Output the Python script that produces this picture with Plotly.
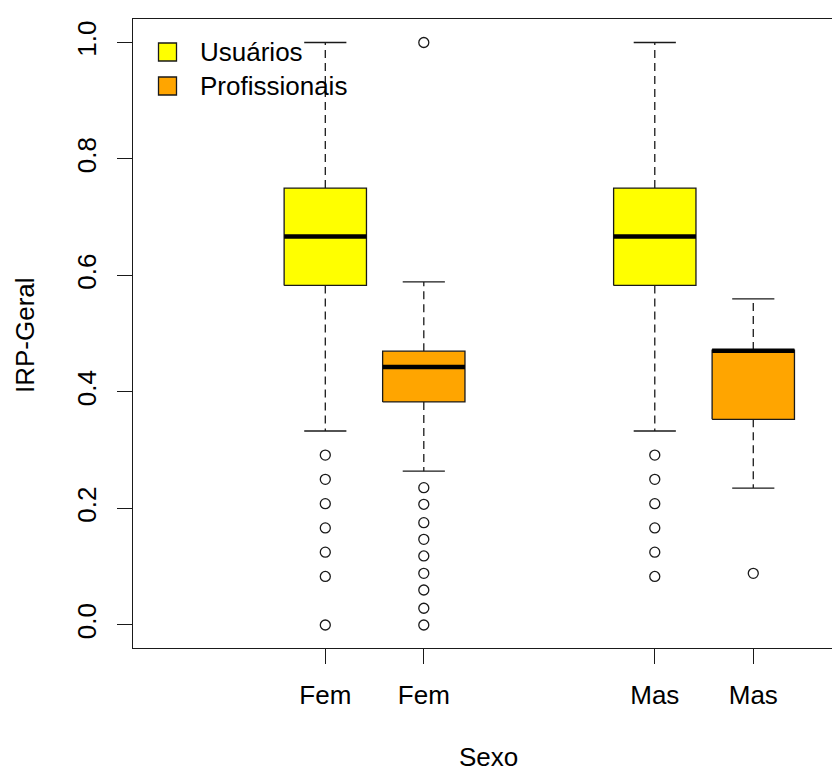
import plotly.graph_objects as go

# ---- data ----
groups = ["Fem", "Fem", "Mas", "Mas"]
series = ["Usuários", "Profissionais", "Usuários", "Profissionais"]
positions = [1, 2, 4.345, 5.345]
lower_whisker = [0.333, 0.264, 0.333, 0.235]
q1 = [0.583, 0.383, 0.583, 0.353]
median = [0.667, 0.443, 0.667, 0.471]
q3 = [0.750, 0.470, 0.750, 0.472]
upper_whisker = [1.0, 0.589, 1.0, 0.560]
outliers = [
    [0.2917, 0.25, 0.2083, 0.1667, 0.125, 0.0833, 0.0],
    [1.0, 0.2357, 0.2072, 0.1756, 0.147, 0.1185, 0.0887, 0.0601, 0.0287, 0.0],
    [0.2917, 0.25, 0.2083, 0.1667, 0.125, 0.0833],
    [0.0887],
]
series_colors = {"Usuários": "#FFFF00", "Profissionais": "#FFA500"}
y_ticks = [0.0, 0.2, 0.4, 0.6, 0.8, 1.0]
y_ticktext = ["0.0", "0.2", "0.4", "0.6", "0.8", "1.0"]

FONT = "Liberation Sans, Arial, sans-serif"
FS = 26
INK = "#1a1a1a"
box_half = 0.418
staple_half = 0.214

fig = go.Figure()

for i, p in enumerate(positions):
    col = series_colors[series[i]]
    # whiskers (dashed)
    fig.add_trace(go.Scatter(
        x=[p, p, None, p, p],
        y=[q3[i], upper_whisker[i], None, q1[i], lower_whisker[i]],
        mode="lines", line=dict(color=INK, width=1.3, dash="8px,5px"),
        hoverinfo="skip", showlegend=False))
    # staples
    fig.add_trace(go.Scatter(
        x=[p - staple_half, p + staple_half, None, p - staple_half, p + staple_half],
        y=[upper_whisker[i], upper_whisker[i], None, lower_whisker[i], lower_whisker[i]],
        mode="lines", line=dict(color=INK, width=1.3),
        hoverinfo="skip", showlegend=False))
    # box
    fig.add_trace(go.Scatter(
        x=[p - box_half, p + box_half, p + box_half, p - box_half, p - box_half],
        y=[q1[i], q1[i], q3[i], q3[i], q1[i]],
        mode="lines", fill="toself", fillcolor=col,
        line=dict(color=INK, width=1.3),
        hoverinfo="skip", showlegend=False))
    # median
    fig.add_trace(go.Scatter(
        x=[p - box_half, p + box_half], y=[median[i], median[i]],
        mode="lines", line=dict(color="#000000", width=4.5),
        hoverinfo="skip", showlegend=False))
    # outliers
    fig.add_trace(go.Scatter(
        x=[p] * len(outliers[i]), y=outliers[i], mode="markers",
        marker=dict(symbol="circle-open", size=10, color=INK, line=dict(width=1.3)),
        hoverinfo="skip", showlegend=False))

# plot area geometry (pixels)
W, H = 832, 773
L, T, B = 133, 19, 125
unit = 98.5
xmin = positions[0] - (325.3 - L) / unit
xmax = positions[0] + (W - 325.3) / unit

fig.update_layout(
    width=W, height=H,
    margin=dict(l=L, r=0, t=T, b=B),
    paper_bgcolor="white", plot_bgcolor="white",
    font=dict(family=FONT, size=FS, color="#000000"),
    showlegend=False,
    xaxis=dict(range=[xmin, xmax], tickvals=positions, ticktext=groups,
               ticks="outside", ticklen=15, tickwidth=1.3, tickcolor=INK,
               showline=True, linecolor=INK, linewidth=1.3, mirror=True,
               showgrid=False, zeroline=False, ticklabelstandoff=9,
               tickfont=dict(size=FS, family=FONT, color="#000000")),
    yaxis=dict(range=[-0.0395, 1.0403], tickvals=y_ticks, ticktext=y_ticktext,
               tickangle=-90, ticks="outside", ticklen=15, tickwidth=1.3, tickcolor=INK,
               showline=True, linecolor=INK, linewidth=1.3, mirror=False,
               showgrid=False, zeroline=False, ticklabelstandoff=10,
               tickfont=dict(size=FS, family=FONT, color="#000000")),
)

pw = W - L
ph = H - T - B

def px_x(v):
    return (v - L) / pw

def px_y(v):
    return (H - B - v) / ph

# axis titles
fig.add_annotation(text="IRP-Geral", x=px_x(25), y=px_y(335), xref="paper", yref="paper",
                   textangle=-90, showarrow=False, xanchor="center", yanchor="middle",
                   font=dict(size=FS, family=FONT, color="#000000"))
fig.add_annotation(text="Sexo", x=px_x(488), y=px_y(H), xref="paper", yref="paper",
                   showarrow=False, xanchor="center", yanchor="bottom", borderpad=0,
                   font=dict(size=FS, family=FONT, color="#000000"))

# legend
legend_items = ["Usuários", "Profissionais"]
legend_y = [52, 86]
for name, ly in zip(legend_items, legend_y):
    fig.add_shape(type="rect", xref="paper", yref="paper",
                  x0=px_x(158.5), x1=px_x(176.5), y0=px_y(ly - 9), y1=px_y(ly + 9),
                  fillcolor=series_colors[name], line=dict(color=INK, width=1.3))
    fig.add_annotation(text=name, x=px_x(198), y=px_y(ly), xref="paper", yref="paper",
                       showarrow=False, xanchor="left", yanchor="middle",
                       font=dict(size=FS, family=FONT, color="#000000"))

fig.write_html("out.html")
